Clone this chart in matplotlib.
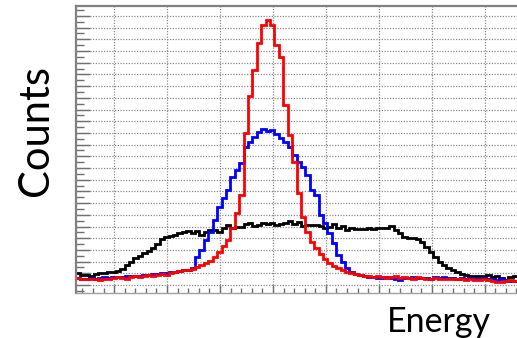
import numpy as np
import matplotlib
matplotlib.use("Agg")
import matplotlib.pyplot as plt
from matplotlib.ticker import MultipleLocator, NullFormatter

# Histogram binning (energy axis)
energy_lo, energy_hi, n_bins = 28.0, 861.0, 100

red_counts = [6.0, 5.0, 5.5, 5.0, 5.5, 4.3, 5.0, 5.5, 6.0, 6.8,
              6.0, 5.5, 6.8, 7.7, 6.8, 7.7, 8.5, 7.7, 8.5, 9.4,
              8.5, 10.3, 11.0, 12.0, 12.8, 12.8, 13.7, 15.4, 17.0, 19.0,
              20.5, 24.0, 28.0, 33.0, 38.5, 49.0, 61.5, 77.0, 130.0, 162.0,
              184.0, 207.0, 222.0, 226.5, 222.0, 205.0, 195.0, 154.0, 128.0, 105.0,
              79.0, 58.0, 45.0, 37.0, 31.6, 26.5, 22.0, 19.0, 16.2, 14.5,
              12.8, 11.0, 10.3, 9.4, 8.5, 8.0, 7.7, 7.0, 7.7, 6.8,
              6.0, 6.8, 7.7, 6.0, 6.8, 6.0, 5.5, 6.8, 6.0, 5.5,
              5.5, 6.0, 5.5, 5.5, 5.0, 5.5, 5.0, 5.0, 4.3, 5.0,
              4.3, 4.3, 5.0, 4.3, 3.5, 2.6, 2.6, 3.5, 4.3, 3.5]

blue_counts = [6.0, 5.5, 5.5, 6.0, 5.5, 6.0, 6.8, 6.0, 6.8, 6.8,
               7.0, 7.7, 7.7, 7.7, 7.7, 8.5, 8.5, 9.4, 9.4, 10.0,
               10.3, 11.0, 11.0, 12.0, 12.8, 12.8, 14.5, 24.0, 30.0, 38.5,
               45.0, 55.6, 67.0, 74.0, 81.0, 92.0, 98.0, 104.0, 118.0, 122.0,
               126.5, 131.0, 133.0, 132.0, 132.5, 129.0, 126.0, 122.0, 118.0, 111.0,
               105.0, 101.0, 94.0, 81.0, 77.0, 60.0, 53.0, 44.4, 36.0, 25.6,
               19.7, 14.5, 11.0, 9.4, 8.5, 7.7, 6.8, 6.8, 6.0, 6.0,
               6.8, 6.0, 5.0, 4.3, 6.0, 6.0, 6.8, 6.0, 6.0, 6.0,
               5.5, 6.8, 6.0, 6.8, 6.0, 6.0, 5.5, 6.0, 5.5, 6.0,
               5.5, 5.5, 6.0, 5.0, 5.0, 4.3, 5.0, 4.3, 3.5, 3.5]

black_counts = [10.3, 8.5, 8.5, 7.7, 9.4, 10.3, 10.3, 11.0, 11.0, 12.0,
                13.7, 17.0, 19.7, 23.0, 25.0, 27.0, 29.0, 31.6, 35.0, 39.0,
                41.0, 42.0, 43.0, 44.4, 45.0, 46.0, 44.4, 46.0, 43.0, 45.0,
                47.0, 47.0, 45.0, 48.7, 51.0, 48.7, 49.6, 49.6, 52.0, 53.0,
                50.4, 51.0, 53.0, 52.0, 53.0, 51.0, 52.0, 53.0, 54.7, 52.0,
                54.0, 50.4, 51.0, 51.0, 51.0, 50.4, 48.7, 49.6, 52.0, 48.7,
                50.4, 47.0, 48.7, 48.0, 48.0, 48.0, 48.7, 48.0, 48.7, 48.7,
                48.7, 50.4, 47.0, 44.4, 41.0, 40.0, 40.0, 39.0, 36.8, 32.5,
                28.0, 24.0, 19.7, 17.0, 14.5, 12.8, 11.0, 9.4, 8.5, 7.7,
                7.7, 7.7, 7.7, 8.5, 6.8, 7.7, 6.0, 4.3, 6.8, 7.7]

x_label = "Energy"
y_label = "Counts"

W, H = 517, 338
fig = plt.figure(figsize=(W / 100, H / 100), dpi=100)
ax = fig.add_axes([76 / W, 1 - 293 / H, 441 / W, 287 / H])

edges = np.linspace(energy_lo, energy_hi, n_bins + 1)
for vals, col in [(black_counts, "black"), (blue_counts, "#0000ff"), (red_counts, "#ff0000")]:
    ax.stairs(vals, edges, color=col, lw=2.0, baseline=None)

ax.set_xlim(energy_lo, energy_hi)
ax.set_ylim(-6.8, 238.5)

ax.xaxis.set_major_locator(MultipleLocator(100))
ax.xaxis.set_minor_locator(MultipleLocator(20))
ax.yaxis.set_major_locator(MultipleLocator(10))
ax.yaxis.set_minor_locator(MultipleLocator(5))
for axis in (ax.xaxis, ax.yaxis):
    axis.set_major_formatter(NullFormatter())
    axis.set_minor_formatter(NullFormatter())

ax.tick_params(axis="both", which="both", direction="in", colors="#707070", width=1.0)
ax.tick_params(axis="y", which="major", length=10)
ax.tick_params(axis="y", which="minor", length=5.5)
ax.tick_params(axis="x", which="major", length=6)
ax.tick_params(axis="x", which="minor", length=3.5)

ax.grid(which="major", color="#8a8a8a", linestyle=(0, (1, 1.2)), lw=0.9)
ax.set_axisbelow(True)

for side in ("left", "top"):
    ax.spines[side].set_color("#808080")
    ax.spines[side].set_linewidth(1.6)
ax.spines["bottom"].set_color("#a0a0a0")
ax.spines["bottom"].set_linewidth(1.0)
ax.spines["right"].set_visible(False)

fig.text(36 / W, 1 - 130 / H, y_label, rotation=90, fontsize=30,
         family="Lato", ha="center", va="center", color="black")
fig.text(439 / W, 1 - 332 / H, x_label, fontsize=24.5,
         family="Lato", ha="center", va="baseline", color="black")

fig.savefig("out.png", dpi=100)
